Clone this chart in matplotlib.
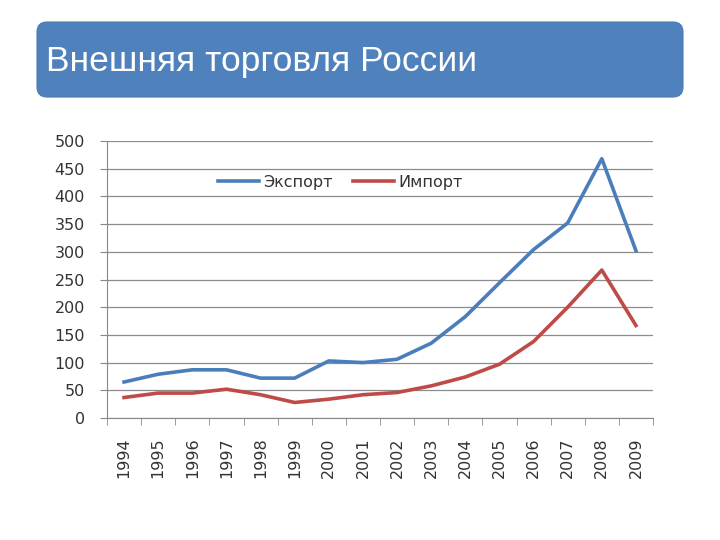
import numpy as np
import matplotlib.pyplot as plt
from matplotlib.patches import FancyBboxPatch

years = [str(y) for y in range(1994, 2010)]
export = [65, 79, 87, 87, 72, 72, 103, 100, 106, 135, 183, 244, 304, 352, 468, 302]
imports = [37, 45, 45, 52, 42, 28, 34, 42, 46, 58, 74, 97, 138, 200, 267, 167]

plt.rcParams['font.family'] = ['DejaVu Sans']

fig = plt.figure(figsize=(7.2, 5.4), dpi=100)

# title banner, drawn on a pixel-sized overlay axes
bg = fig.add_axes([0, 0, 1, 1])
bg.set_xlim(0, 720)
bg.set_ylim(540, 0)
bg.axis('off')
banner = FancyBboxPatch((37, 22), 646, 75, boxstyle='round,pad=0,rounding_size=10',
                        facecolor='#4F81BD', edgecolor='#4A7AB3', linewidth=0.8)
bg.add_patch(banner)
bg.text(46, 61, 'Внешняя торговля России', color='white', fontsize=25.5,
        va='center', ha='left', family=['Liberation Sans', 'DejaVu Sans'])

ax = fig.add_axes([107/720, 122/540, 546/720, 277/540])
x = np.arange(len(years))
ax.plot(x, export, color='#4A7EBB', lw=2.6, label='Экспорт', solid_joinstyle='round')
ax.plot(x, imports, color='#BE4B48', lw=2.6, label='Импорт', solid_joinstyle='round')

ax.set_xlim(-0.5, len(years) - 0.5)
ax.set_ylim(0, 500)
ax.set_yticks(range(0, 501, 50))
ax.set_xticks(x)
ax.set_xticklabels(years, rotation=90, fontsize=11.5, color='#333333')
ax.set_xticks(np.arange(-0.5, len(years), 1), minor=True)
ax.tick_params(axis='x', which='major', length=0, pad=14)
ax.tick_params(axis='x', which='minor', length=5, color='#888888', direction='out')
ax.tick_params(axis='y', length=5, color='#888888', labelsize=11.5, labelcolor='#333333', pad=11)
ax.grid(axis='y', color='#8C8C8C', lw=0.9)
ax.set_axisbelow(True)
for s in ['top', 'right']:
    ax.spines[s].set_visible(False)
for s in ['left', 'bottom']:
    ax.spines[s].set_color('#888888')

leg = ax.legend(loc='upper center', bbox_to_anchor=(0.427, 0.93), ncol=2, frameon=False,
                fontsize=11.5, handlelength=2.6, handletextpad=0.25, columnspacing=1.25)
for t in leg.get_texts():
    t.set_color('#333333')

fig.savefig('out.png', dpi=100)
